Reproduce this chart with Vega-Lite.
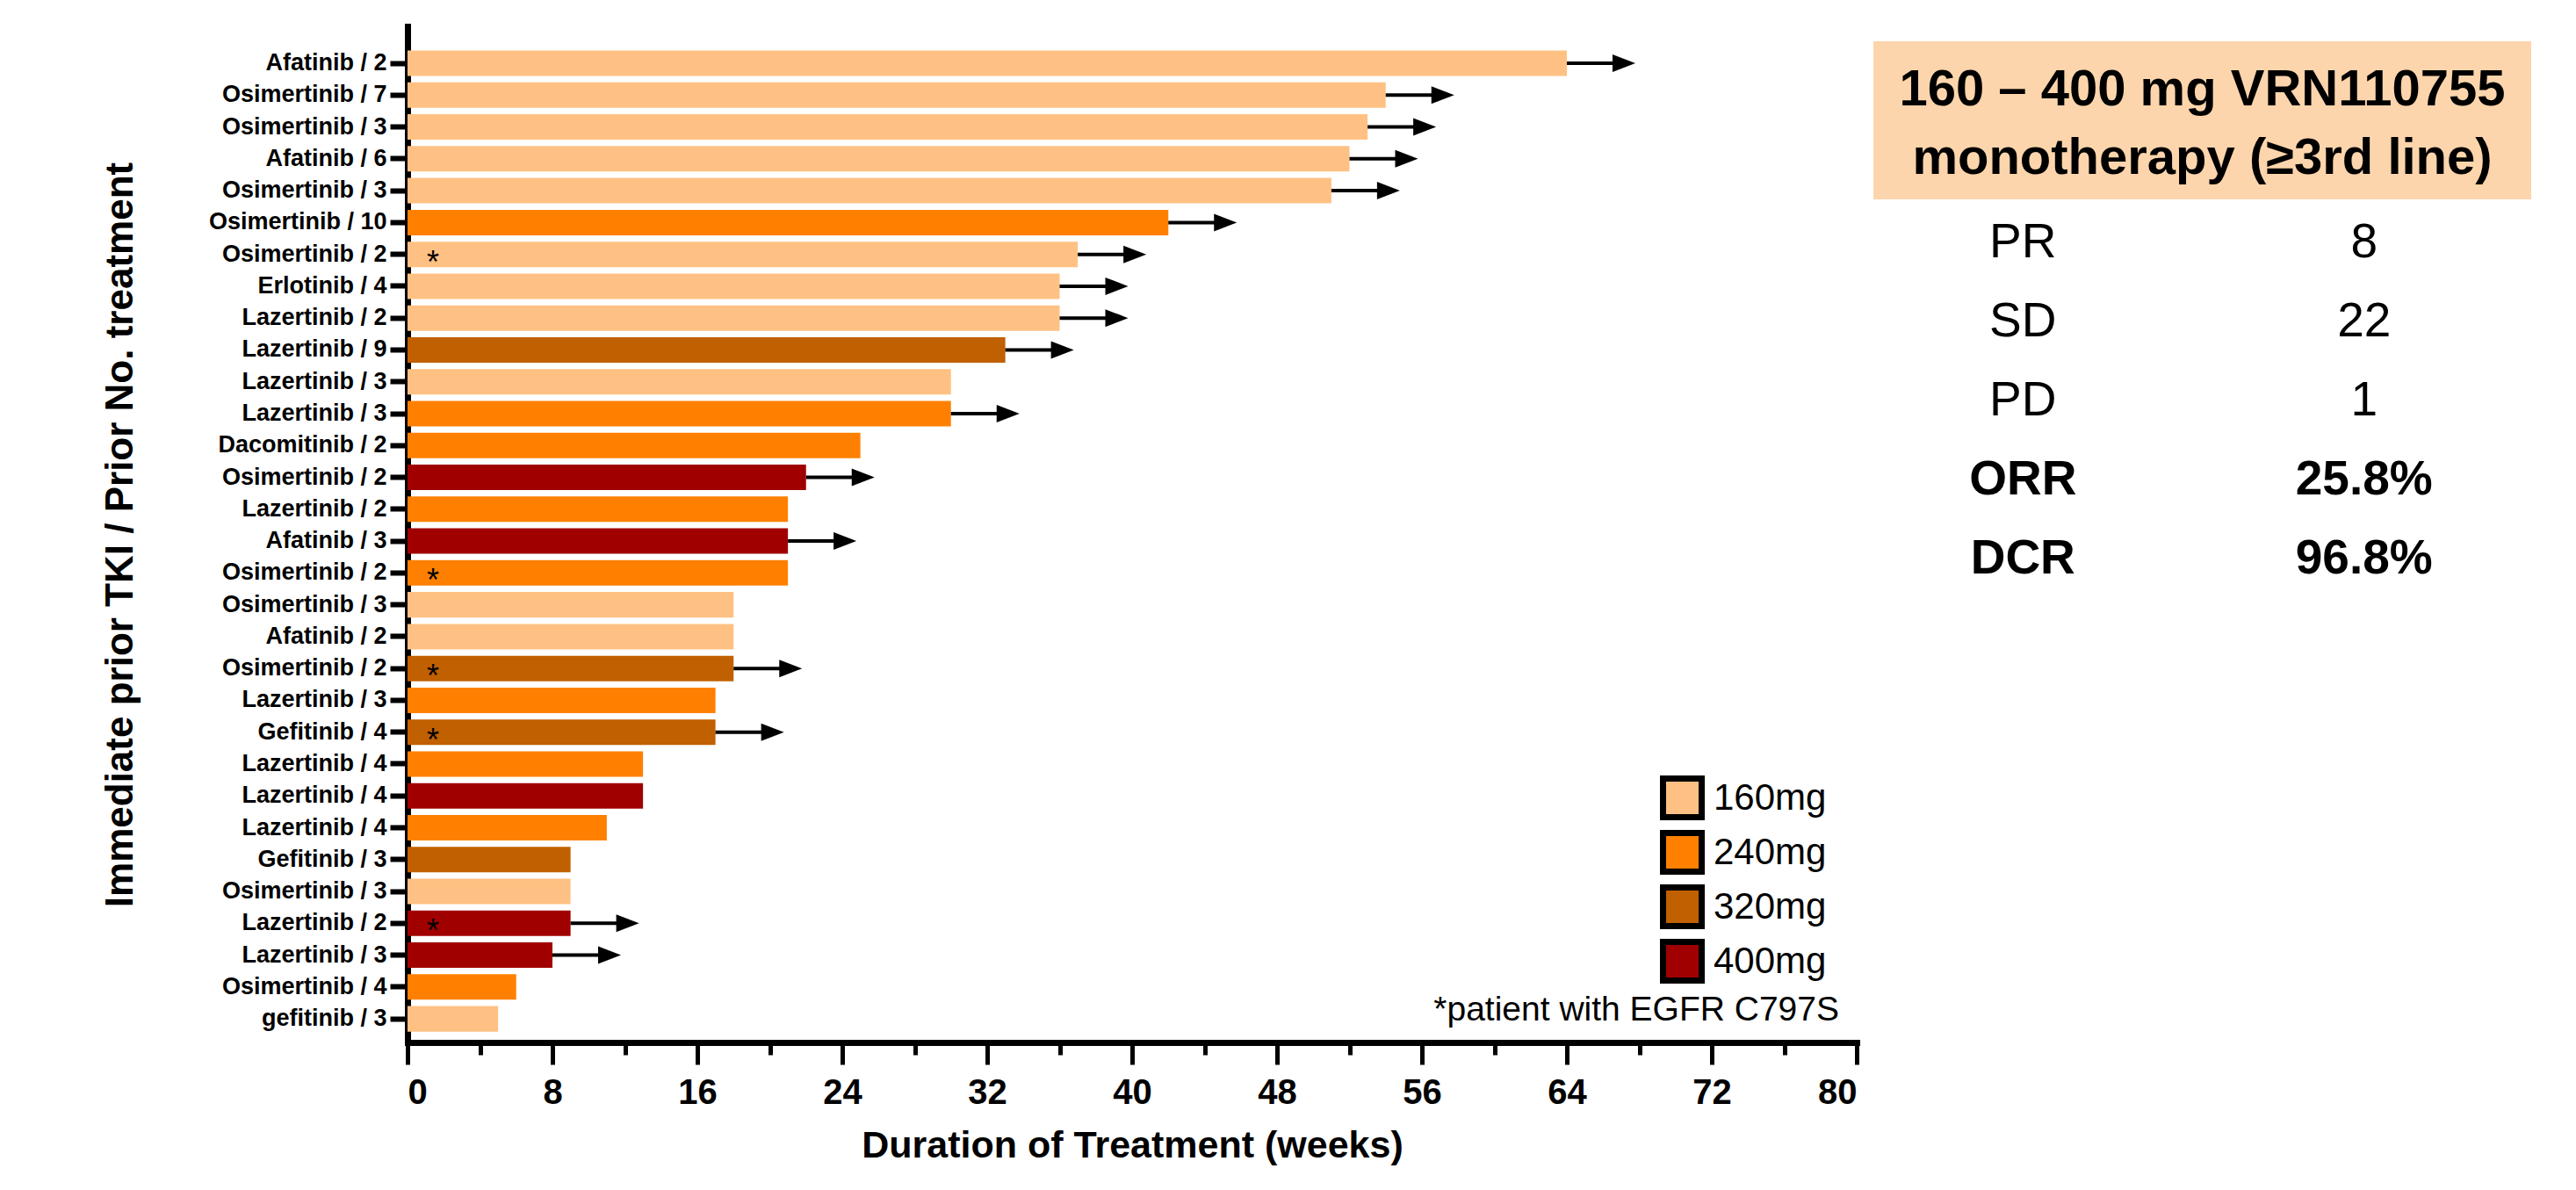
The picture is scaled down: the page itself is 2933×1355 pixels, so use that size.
{
  "$schema": "https://vega.github.io/schema/vega-lite/v6.json",
  "background": "white",
  "padding": {"left": 115, "top": 30, "right": 5, "bottom": 5},
  "bounds": "flush",
  "spacing": 19,
  "config": {"view": {"stroke": null}, "font": "Liberation Sans"},
  "hconcat": [
    {
      "width": 1650,
      "height": 1157,
      "data": {
        "values": [
          {"rank": 1, "label": "Afatinib / 2", "dose": "160mg", "weeks": 64, "ongoing": true, "c797s": false},
          {"rank": 2, "label": "Osimertinib / 7", "dose": "160mg", "weeks": 54, "ongoing": true, "c797s": false},
          {"rank": 3, "label": "Osimertinib / 3", "dose": "160mg", "weeks": 53, "ongoing": true, "c797s": false},
          {"rank": 4, "label": "Afatinib / 6", "dose": "160mg", "weeks": 52, "ongoing": true, "c797s": false},
          {"rank": 5, "label": "Osimertinib / 3\u200b", "dose": "160mg", "weeks": 51, "ongoing": true, "c797s": false},
          {"rank": 6, "label": "Osimertinib / 10", "dose": "240mg", "weeks": 42, "ongoing": true, "c797s": false},
          {"rank": 7, "label": "Osimertinib / 2", "dose": "160mg", "weeks": 37, "ongoing": true, "c797s": true},
          {"rank": 8, "label": "Erlotinib / 4", "dose": "160mg", "weeks": 36, "ongoing": true, "c797s": false},
          {"rank": 9, "label": "Lazertinib / 2", "dose": "160mg", "weeks": 36, "ongoing": true, "c797s": false},
          {"rank": 10, "label": "Lazertinib / 9", "dose": "320mg", "weeks": 33, "ongoing": true, "c797s": false},
          {"rank": 11, "label": "Lazertinib / 3", "dose": "160mg", "weeks": 30, "ongoing": false, "c797s": false},
          {"rank": 12, "label": "Lazertinib / 3\u200b", "dose": "240mg", "weeks": 30, "ongoing": true, "c797s": false},
          {"rank": 13, "label": "Dacomitinib / 2", "dose": "240mg", "weeks": 25, "ongoing": false, "c797s": false},
          {"rank": 14, "label": "Osimertinib / 2\u200b", "dose": "400mg", "weeks": 22, "ongoing": true, "c797s": false},
          {"rank": 15, "label": "Lazertinib / 2\u200b", "dose": "240mg", "weeks": 21, "ongoing": false, "c797s": false},
          {"rank": 16, "label": "Afatinib / 3", "dose": "400mg", "weeks": 21, "ongoing": true, "c797s": false},
          {"rank": 17, "label": "Osimertinib / 2\u200b\u200b", "dose": "240mg", "weeks": 21, "ongoing": false, "c797s": true},
          {"rank": 18, "label": "Osimertinib / 3\u200b\u200b", "dose": "160mg", "weeks": 18, "ongoing": false, "c797s": false},
          {"rank": 19, "label": "Afatinib / 2\u200b", "dose": "160mg", "weeks": 18, "ongoing": false, "c797s": false},
          {"rank": 20, "label": "Osimertinib / 2\u200b\u200b\u200b", "dose": "320mg", "weeks": 18, "ongoing": true, "c797s": true},
          {"rank": 21, "label": "Lazertinib / 3\u200b\u200b", "dose": "240mg", "weeks": 17, "ongoing": false, "c797s": false},
          {"rank": 22, "label": "Gefitinib / 4", "dose": "320mg", "weeks": 17, "ongoing": true, "c797s": true},
          {"rank": 23, "label": "Lazertinib / 4", "dose": "240mg", "weeks": 13, "ongoing": false, "c797s": false},
          {"rank": 24, "label": "Lazertinib / 4\u200b", "dose": "400mg", "weeks": 13, "ongoing": false, "c797s": false},
          {"rank": 25, "label": "Lazertinib / 4\u200b\u200b", "dose": "240mg", "weeks": 11, "ongoing": false, "c797s": false},
          {"rank": 26, "label": "Gefitinib / 3", "dose": "320mg", "weeks": 9, "ongoing": false, "c797s": false},
          {"rank": 27, "label": "Osimertinib / 3\u200b\u200b\u200b", "dose": "160mg", "weeks": 9, "ongoing": false, "c797s": false},
          {"rank": 28, "label": "Lazertinib / 2\u200b\u200b", "dose": "400mg", "weeks": 9, "ongoing": true, "c797s": true},
          {"rank": 29, "label": "Lazertinib / 3\u200b\u200b\u200b", "dose": "400mg", "weeks": 8, "ongoing": true, "c797s": false},
          {"rank": 30, "label": "Osimertinib / 4", "dose": "240mg", "weeks": 6, "ongoing": false, "c797s": false},
          {"rank": 31, "label": "gefitinib / 3", "dose": "160mg", "weeks": 5, "ongoing": false, "c797s": false, "note": "*patient with EGFR C797S"}
        ]
      },
      "resolve": {"axis": {"x": "independent"}},
      "encoding": {
        "y": {
          "field": "label",
          "type": "nominal",
          "sort": {"field": "rank", "op": "min", "order": "ascending"},
          "scale": {"paddingInner": 0.2, "paddingOuter": 0.55, "align": 0.69},
          "axis": {
            "title": "Immediate prior TKI / Prior No. treatment",
            "titleFontSize": 44,
            "titleFontWeight": "bold",
            "titleColor": "black",
            "titlePadding": 105,
            "labelFontSize": 27,
            "labelFontWeight": "bold",
            "labelColor": "black",
            "labelPadding": 4,
            "labelLimit": 0,
            "tickSize": 20,
            "tickWidth": 6,
            "tickColor": "black",
            "domainWidth": 7,
            "domainColor": "black",
            "domainCap": "square"
          }
        }
      },
      "layer": [
        {
          "mark": {"type": "bar"},
          "encoding": {
            "x": {
              "field": "weeks",
              "type": "quantitative",
              "scale": {"domain": [0, 80], "nice": false},
              "axis": {
                "orient": "bottom",
                "values": [0, 8, 16, 24, 32, 40, 48, 56, 64, 72, 80],
                "tickSize": 25,
                "tickWidth": 5,
                "tickColor": "black",
                "labelFontSize": 40,
                "labelFontWeight": "bold",
                "labelColor": "black",
                "labelPadding": 12,
                "labelOverlap": false,
                "grid": false,
                "title": "Duration of Treatment (weeks)",
                "titleFontSize": 43,
                "titleFontWeight": "bold",
                "titleColor": "black",
                "titlePadding": 19,
                "domainWidth": 7,
                "domainColor": "black",
                "domainCap": "square"
              }
            },
            "color": {
              "field": "dose",
              "type": "nominal",
              "scale": {"domain": ["160mg", "240mg", "320mg", "400mg"], "range": ["#FFC183", "#FF8000", "#C06000", "#A00000"]},
              "legend": {
                "title": null,
                "orient": "none",
                "legendX": 1426,
                "legendY": 853,
                "symbolType": "square",
                "symbolSize": 1936,
                "symbolStrokeColor": "black",
                "symbolStrokeWidth": 7,
                "symbolOpacity": 1,
                "labelFontSize": 42,
                "labelColor": "black",
                "labelOffset": 10,
                "labelLimit": 0,
                "rowPadding": -11,
                "padding": 0
              }
            }
          }
        },
        {
          "transform": [{"filter": "datum.ongoing"}],
          "mark": {"type": "rule", "strokeWidth": 4, "color": "black", "x2Offset": 54},
          "encoding": {
            "x": {
              "field": "weeks",
              "type": "quantitative",
              "axis": {
                "orient": "bottom",
                "values": [4, 12, 20, 28, 36, 44, 52, 60, 68, 76],
                "tickSize": 14,
                "tickWidth": 5,
                "tickColor": "black",
                "labels": false,
                "domain": false,
                "grid": false,
                "title": null
              }
            },
            "x2": {"field": "weeks"}
          }
        },
        {
          "transform": [{"filter": "datum.ongoing"}],
          "mark": {"type": "point", "shape": "M-1.3,-1L1.3,0L-1.3,1Z", "size": 400, "filled": true, "color": "black", "opacity": 1, "xOffset": 65},
          "encoding": {
            "x": {"field": "weeks", "type": "quantitative", "axis": null}
          }
        },
        {
          "transform": [{"filter": "datum.c797s"}],
          "mark": {"type": "text", "text": "*", "fontSize": 36, "color": "black", "align": "center", "baseline": "middle", "dx": 29, "dy": 10},
          "encoding": {
            "x": {"datum": 0, "type": "quantitative", "axis": null}
          }
        },
        {
          "transform": [{"filter": "datum.note"}],
          "mark": {"type": "text", "fontSize": 39, "color": "black", "align": "right", "baseline": "middle", "dx": -20, "dy": -10},
          "encoding": {
            "x": {"datum": 80, "type": "quantitative", "axis": null},
            "text": {"field": "note"}
          }
        }
      ]
    },
    {
      "width": 749,
      "height": 664,
      "data": {
        "values": [
          {"row": "h1", "kind": "header", "heading": "160 – 400 mg VRN110755"},
          {"row": "h2", "kind": "header", "heading": "monotherapy (≥3rd line)"},
          {"row": "PR", "kind": "plain", "name": "PR", "result": "8"},
          {"row": "SD", "kind": "plain", "name": "SD", "result": "22"},
          {"row": "PD", "kind": "plain", "name": "PD", "result": "1"},
          {"row": "ORR", "kind": "bold", "name": "ORR", "result": "25.8%"},
          {"row": "DCR", "kind": "bold", "name": "DCR", "result": "96.8%"}
        ]
      },
      "encoding": {
        "y": {
          "field": "row",
          "type": "nominal",
          "scale": {"domain": ["h1", "h2", "PR", "SD", "PD", "ORR", "DCR"], "paddingInner": 0, "paddingOuter": 0.19},
          "axis": null
        }
      },
      "layer": [
        {
          "transform": [{"filter": "datum.kind === 'header'"}],
          "mark": {"type": "rect", "color": "#FDD5AC"}
        },
        {
          "transform": [{"filter": "datum.row === 'h1'"}],
          "mark": {"type": "text", "fontSize": 58, "fontWeight": "bold", "color": "black", "dy": 11},
          "encoding": {"text": {"field": "heading"}}
        },
        {
          "transform": [{"filter": "datum.row === 'h2'"}],
          "mark": {"type": "text", "fontSize": 58, "fontWeight": "bold", "color": "black", "dy": -1},
          "encoding": {"text": {"field": "heading"}}
        },
        {
          "transform": [{"filter": "datum.kind === 'plain'"}],
          "mark": {"type": "text", "fontSize": 55, "color": "black", "dy": 4, "dx": -17},
          "encoding": {
            "x": {"datum": "name", "type": "nominal", "scale": {"domain": ["name", "result"], "paddingInner": 0, "paddingOuter": 0}, "axis": null},
            "text": {"field": "name"}
          }
        },
        {
          "transform": [{"filter": "datum.kind === 'plain'"}],
          "mark": {"type": "text", "fontSize": 55, "color": "black", "dy": 4, "dx": -3},
          "encoding": {
            "x": {"datum": "result", "type": "nominal", "axis": null},
            "text": {"field": "result"}
          }
        },
        {
          "transform": [{"filter": "datum.kind === 'bold'"}],
          "mark": {"type": "text", "fontSize": 55, "fontWeight": "bold", "color": "black", "dy": 4, "dx": -17},
          "encoding": {
            "x": {"datum": "name", "type": "nominal", "axis": null},
            "text": {"field": "name"}
          }
        },
        {
          "transform": [{"filter": "datum.kind === 'bold'"}],
          "mark": {"type": "text", "fontSize": 55, "fontWeight": "bold", "color": "black", "dy": 4, "dx": -3},
          "encoding": {
            "x": {"datum": "result", "type": "nominal", "axis": null},
            "text": {"field": "result"}
          }
        }
      ]
    }
  ]
}
